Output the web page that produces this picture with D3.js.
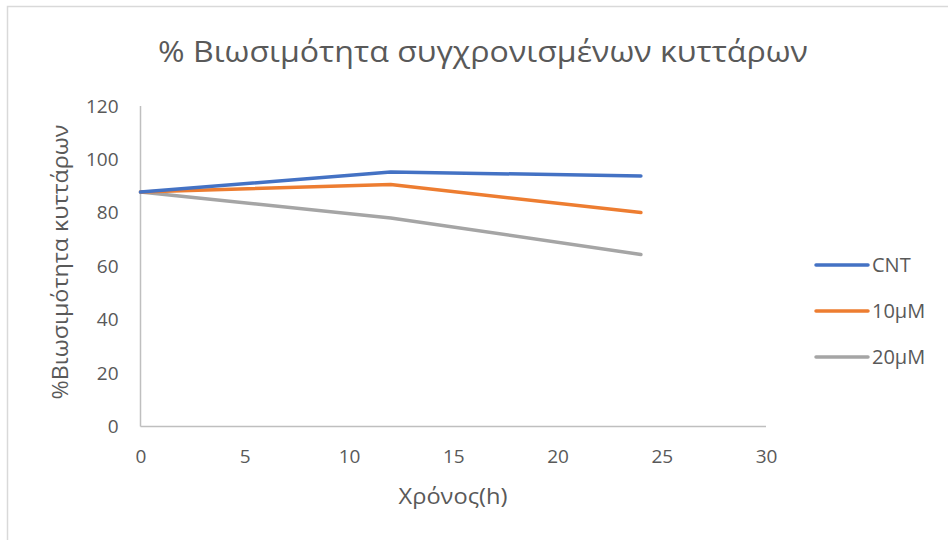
<!DOCTYPE html>
<html>
<head>
<meta charset="utf-8">
<script src="https://cdn.jsdelivr.net/npm/d3@7"></script>
<style>
  html, body { margin: 0; padding: 0; background: #fff; }
  svg { display: block; font-family: "Open Sans", "Noto Sans", sans-serif; }
</style>
</head>
<body>
<svg id="chart" width="948" height="540"></svg>
<script>
// Sampling times (hours)
const hours = [0, 12, 24];
// Viability (%) per treatment
const seriesNames = ["CNT", "10μM", "20μM"];
const cntValues = [87.8, 95.3, 93.8];
const m10Values = [87.8, 90.6, 80.1];
const m20Values = [87.8, 78.1, 64.4];
const xTicks = [0, 5, 10, 15, 20, 25, 30];
const yTicks = [0, 20, 40, 60, 80, 100, 120];
const colors = ["#4472C4", "#ED7D31", "#A5A5A5"];

const titleText = "% Βιωσιμότητα συγχρονισμένων κυττάρων";
const xLabel = "Χρόνος(h)";
const yLabel = "%Βιωσιμότητα κυττάρων";

const series = [cntValues, m10Values, m20Values].map((vals, i) => ({
  name: seriesNames[i],
  color: colors[i],
  points: hours.map((h, j) => ({ x: h, y: vals[j] }))
}));

const svg = d3.select("#chart");
const textColor = "#595959";
const axisColor = "#BFBFBF";

// Outer frame (left and top edges visible)
svg.append("path")
  .attr("d", "M7.5,540 L7.5,6.5 L948,6.5")
  .attr("fill", "none")
  .attr("stroke", "#D9D9D9")
  .attr("stroke-width", 1.5);

const plot = { left: 140.5, right: 766, top: 106, bottom: 426.5 };

const x = d3.scaleLinear().domain([0, 30]).range([plot.left, plot.right]);
const y = d3.scaleLinear().domain([0, 120]).range([plot.bottom, plot.top]);

// Title
svg.append("text")
  .attr("x", 158).attr("y", 62)
  .attr("fill", textColor)
  .attr("font-size", 30)
  .attr("textLength", 650)
  .attr("lengthAdjust", "spacingAndGlyphs")
  .text(titleText);

// Axes
const xAxis = d3.axisBottom(x).tickValues(xTicks).tickSize(0).tickPadding(25);
const yAxis = d3.axisLeft(y).tickValues(yTicks).tickSize(0).tickPadding(22);

const gx = svg.append("g")
  .attr("transform", `translate(0,${plot.bottom})`)
  .call(xAxis);
const gy = svg.append("g")
  .attr("transform", `translate(${plot.left},0)`)
  .call(yAxis);

[gx, gy].forEach(g => {
  g.select(".domain").attr("stroke", axisColor).attr("stroke-width", 1.5);
  g.selectAll("text")
    .attr("fill", textColor)
    .attr("font-size", 19)
    .attr("font-family", "'Open Sans', 'Noto Sans', sans-serif");
});
gx.selectAll(".tick text").attr("dy", "0.6em");
gx.select(".domain").attr("d", `M${plot.left},0H${plot.right}`);
gy.select(".domain").attr("d", `M0,${plot.bottom}V${plot.top}`);

// Axis titles
svg.append("text")
  .attr("x", 453).attr("y", 504)
  .attr("text-anchor", "middle")
  .attr("fill", textColor)
  .attr("font-size", 21)
  .attr("textLength", 109)
  .attr("lengthAdjust", "spacingAndGlyphs")
  .text(xLabel);

svg.append("text")
  .attr("transform", "translate(68,262) rotate(-90)")
  .attr("text-anchor", "middle")
  .attr("fill", textColor)
  .attr("font-size", 21)
  .attr("textLength", 275)
  .attr("lengthAdjust", "spacingAndGlyphs")
  .text(yLabel);

// Lines
const line = d3.line().x(d => x(d.x)).y(d => y(d.y));
svg.append("g").selectAll("path")
  .data(series.slice().reverse())
  .join("path")
  .attr("d", d => line(d.points))
  .attr("fill", "none")
  .attr("stroke", d => d.color)
  .attr("stroke-width", 3.5)
  .attr("stroke-linejoin", "round")
  .attr("stroke-linecap", "round");

// Legend
const legend = svg.append("g");
const legendY = d3.scalePoint().domain(seriesNames).range([265, 357]);
const items = legend.selectAll("g")
  .data(series)
  .join("g")
  .attr("transform", d => `translate(816,${legendY(d.name)})`);
items.append("line")
  .attr("x1", 0).attr("x2", 52)
  .attr("stroke", d => d.color)
  .attr("stroke-width", 3.5)
  .attr("stroke-linecap", "round");
items.append("text")
  .attr("x", 56).attr("y", 7)
  .attr("fill", textColor)
  .attr("font-size", 20)
  .text(d => d.name);
</script>
</body>
</html>
